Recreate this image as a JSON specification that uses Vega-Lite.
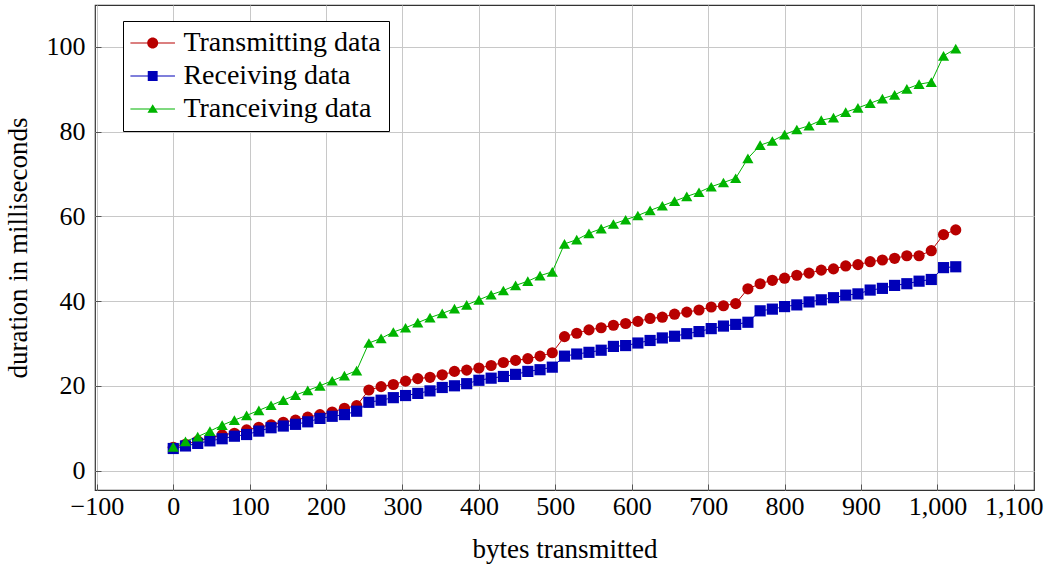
{
  "$schema": "https://vega.github.io/schema/vega-lite/v6.json",
  "autosize": "none",
  "width": 939,
  "height": 485,
  "padding": {"left": 95, "top": 5, "right": 16, "bottom": 79},
  "background": "white",
  "config": {
    "font": "Liberation Serif",
    "view": {"stroke": "#333333", "strokeWidth": 1.2},
    "axis": {
      "labelFont": "Liberation Serif",
      "labelFontSize": 26,
      "labelColor": "black",
      "titleFont": "Liberation Serif",
      "titleFontSize": 27,
      "titleFontWeight": "normal",
      "titleColor": "black",
      "gridColor": "#c8c8c8",
      "gridWidth": 1,
      "gridOpacity": 1,
      "domain": false,
      "tickColor": "#555555",
      "tickSize": -6,
      "tickWidth": 1
    },
    "legend": {
      "orient": "none",
      "legendX": 28,
      "legendY": 16,
      "fillColor": "white",
      "strokeColor": "black",
      "padding": 8,
      "symbolSize": 121,
      "symbolOffset": 7.7,
      "labelOffset": 16.7,
      "labelFont": "Liberation Serif",
      "labelFontSize": 28,
      "labelColor": "black",
      "labelLimit": 400,
      "rowPadding": 5,
      "symbolStrokeWidth": 0
    }
  },
  "data": {
    "values": [
      {"bytes": 0, "T": 5.5, "R": 5.2, "G": 5.6},
      {"bytes": 16, "T": 6.2, "R": 5.8, "G": 6.9},
      {"bytes": 32, "T": 7.0, "R": 6.4, "G": 8.0},
      {"bytes": 48, "T": 7.7, "R": 7.0, "G": 9.3},
      {"bytes": 64, "T": 8.4, "R": 7.5, "G": 10.7},
      {"bytes": 80, "T": 8.8, "R": 8.1, "G": 11.9},
      {"bytes": 96, "T": 9.6, "R": 8.5, "G": 13.0},
      {"bytes": 112, "T": 10.2, "R": 9.3, "G": 14.2},
      {"bytes": 128, "T": 10.8, "R": 10.1, "G": 15.4},
      {"bytes": 144, "T": 11.4, "R": 10.5, "G": 16.6},
      {"bytes": 160, "T": 11.9, "R": 10.9, "G": 17.8},
      {"bytes": 176, "T": 12.6, "R": 11.5, "G": 18.9},
      {"bytes": 192, "T": 13.2, "R": 12.3, "G": 20.0},
      {"bytes": 208, "T": 13.8, "R": 12.8, "G": 21.2},
      {"bytes": 224, "T": 14.7, "R": 13.2, "G": 22.4},
      {"bytes": 240, "T": 15.3, "R": 14.0, "G": 23.6},
      {"bytes": 256, "T": 19.0, "R": 16.1, "G": 30.1},
      {"bytes": 272, "T": 19.8, "R": 16.6, "G": 31.2},
      {"bytes": 288, "T": 20.3, "R": 17.2, "G": 32.7},
      {"bytes": 304, "T": 21.1, "R": 17.7, "G": 33.7},
      {"bytes": 320, "T": 21.7, "R": 18.2, "G": 34.9},
      {"bytes": 336, "T": 22.0, "R": 18.8, "G": 36.1},
      {"bytes": 352, "T": 22.6, "R": 19.6, "G": 37.1},
      {"bytes": 368, "T": 23.4, "R": 20.0, "G": 38.2},
      {"bytes": 384, "T": 23.7, "R": 20.5, "G": 39.1},
      {"bytes": 400, "T": 24.2, "R": 21.3, "G": 40.3},
      {"bytes": 416, "T": 24.8, "R": 21.8, "G": 41.5},
      {"bytes": 432, "T": 25.5, "R": 22.2, "G": 42.5},
      {"bytes": 448, "T": 26.0, "R": 22.7, "G": 43.7},
      {"bytes": 464, "T": 26.4, "R": 23.4, "G": 44.7},
      {"bytes": 480, "T": 27.0, "R": 23.8, "G": 46.0},
      {"bytes": 496, "T": 27.8, "R": 24.4, "G": 46.9},
      {"bytes": 512, "T": 31.6, "R": 27.0, "G": 53.5},
      {"bytes": 528, "T": 32.4, "R": 27.5, "G": 54.5},
      {"bytes": 544, "T": 33.2, "R": 27.9, "G": 56.0},
      {"bytes": 560, "T": 33.7, "R": 28.4, "G": 57.1},
      {"bytes": 576, "T": 34.3, "R": 29.3, "G": 58.2},
      {"bytes": 592, "T": 34.7, "R": 29.5, "G": 59.2},
      {"bytes": 608, "T": 35.2, "R": 30.1, "G": 60.2},
      {"bytes": 624, "T": 35.9, "R": 30.7, "G": 61.4},
      {"bytes": 640, "T": 36.2, "R": 31.3, "G": 62.5},
      {"bytes": 656, "T": 36.9, "R": 31.7, "G": 63.6},
      {"bytes": 672, "T": 37.4, "R": 32.3, "G": 64.7},
      {"bytes": 688, "T": 37.9, "R": 32.8, "G": 65.7},
      {"bytes": 704, "T": 38.6, "R": 33.5, "G": 67.0},
      {"bytes": 720, "T": 38.9, "R": 34.1, "G": 68.0},
      {"bytes": 736, "T": 39.4, "R": 34.5, "G": 69.0},
      {"bytes": 752, "T": 42.9, "R": 35.0, "G": 73.7},
      {"bytes": 768, "T": 44.1, "R": 37.7, "G": 76.8},
      {"bytes": 784, "T": 44.9, "R": 38.1, "G": 77.8},
      {"bytes": 800, "T": 45.4, "R": 38.7, "G": 79.3},
      {"bytes": 816, "T": 46.1, "R": 39.1, "G": 80.5},
      {"bytes": 832, "T": 46.6, "R": 39.8, "G": 81.4},
      {"bytes": 848, "T": 47.3, "R": 40.3, "G": 82.7},
      {"bytes": 864, "T": 47.6, "R": 40.8, "G": 83.3},
      {"bytes": 880, "T": 48.3, "R": 41.4, "G": 84.6},
      {"bytes": 896, "T": 48.6, "R": 41.7, "G": 85.6},
      {"bytes": 912, "T": 49.3, "R": 42.6, "G": 86.7},
      {"bytes": 928, "T": 49.7, "R": 43.0, "G": 87.8},
      {"bytes": 944, "T": 50.1, "R": 43.7, "G": 88.7},
      {"bytes": 960, "T": 50.7, "R": 44.1, "G": 90.1},
      {"bytes": 976, "T": 50.7, "R": 44.7, "G": 91.2},
      {"bytes": 992, "T": 51.9, "R": 45.1, "G": 91.7},
      {"bytes": 1008, "T": 55.7, "R": 47.9, "G": 97.9},
      {"bytes": 1024, "T": 56.8, "R": 48.1, "G": 99.6}
    ]
  },
  "transform": [
    {"fold": ["T", "R", "G"], "as": ["key", "ms"]},
    {"lookup": "key", "from": {"data": {"values": [
      {"key": "T", "series": "Transmitting data"},
      {"key": "R", "series": "Receiving data"},
      {"key": "G", "series": "Tranceiving data"}
    ]}, "key": "key", "fields": ["series"]}}
  ],
  "encoding": {
    "x": {
      "field": "bytes",
      "type": "quantitative",
      "scale": {"domain": [-102.4, 1126.4], "nice": false, "zero": false},
      "axis": {
        "values": [-100, 0, 100, 200, 300, 400, 500, 600, 700, 800, 900, 1000, 1100],
        "format": ",d",
        "labelPadding": 9,
        "title": "bytes transmitted",
        "titlePadding": 17
      }
    },
    "y": {
      "field": "ms",
      "type": "quantitative",
      "scale": {"domain": [-4.6, 109.9], "nice": false, "zero": false},
      "axis": {
        "values": [0, 20, 40, 60, 80, 100],
        "format": "d",
        "labelPadding": 16,
        "title": "duration in milliseconds",
        "titlePadding": 14
      }
    },
    "color": {
      "field": "series",
      "type": "nominal",
      "scale": {
        "domain": ["Transmitting data", "Receiving data", "Tranceiving data"],
        "range": ["#b80000", "#0000b8", "#00b400"]
      },
      "legend": {"title": null}
    }
  },
  "layer": [
    {
      "mark": {"type": "line", "strokeWidth": 1}
    },
    {
      "transform": [{"filter": "datum.key === 'T'"}],
      "mark": {"type": "point", "filled": true, "opacity": 1, "strokeWidth": 0, "shape": "circle", "size": 125}
    },
    {
      "transform": [{"filter": "datum.key === 'R'"}],
      "mark": {"type": "point", "filled": true, "opacity": 1, "strokeWidth": 0, "shape": "square", "size": 125}
    },
    {
      "transform": [{"filter": "datum.key === 'G'"}],
      "mark": {"type": "point", "filled": true, "opacity": 1, "strokeWidth": 0, "shape": "triangle-up", "size": 125}
    },
    {
      "transform": [{"filter": "datum.bytes < 0"}],
      "mark": {"type": "point", "filled": true, "opacity": 1, "strokeWidth": 0},
      "encoding": {
        "shape": {
          "field": "series",
          "type": "nominal",
          "scale": {
            "domain": ["Transmitting data", "Receiving data", "Tranceiving data"],
            "range": [
              "M-4.05,-0.1H4.05V0.1H-4.05ZM1,0A1,1 0 1,1 -1,0A1,1 0 1,1 1,0Z",
              "M-4.05,-0.1H4.05V0.1H-4.05ZM-0.9,-0.9H0.9V0.9H-0.9Z",
              "M-4.05,-0.1H4.05V0.1H-4.05ZM0,-0.85L0.95,0.7H-0.95Z"
            ]
          },
          "legend": {"title": null}
        }
      }
    }
  ]
}
